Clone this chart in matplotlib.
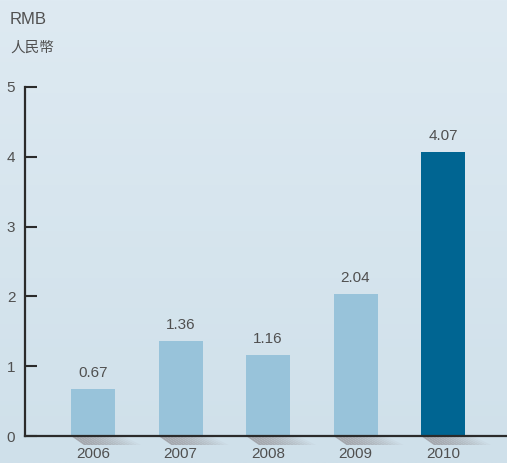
import numpy as np
from matplotlib import pyplot as plt
from matplotlib.collections import PolyCollection
from matplotlib.colors import to_rgb

plt.rcParams['font.family'] = ['Liberation Sans', 'Noto Sans CJK TC', 'DejaVu Sans']

years  = ['2006', '2007', '2008', '2009', '2010']
values = [0.67, 1.36, 1.16, 2.04, 4.07]
yticks = [0, 1, 2, 3, 4, 5]

light  = '#98c3da'
dark   = '#006592'
txt    = '#505050'
W, H   = 507, 463

fig = plt.figure(figsize=(W / 100, H / 100), dpi=100)

# soft blue background wash
bg = fig.add_axes([0, 0, 1, 1])
grad = np.linspace(0, 1, 256)[:, None]
top, bot = np.array(to_rgb('#deeaf2')), np.array(to_rgb('#cfe0ea'))
img = top[None, None, :] * (1 - grad[..., None]) + bot[None, None, :] * grad[..., None]
bg.imshow(img, aspect='auto', extent=[0, 1, 0, 1])
bg.axis('off')

x0, y0, y1 = 25, 463 - 436, 463 - 87
ax = fig.add_axes([x0 / W, y0 / H, 1 - x0 / W, (y1 - y0) / H])
ax.patch.set_visible(False)

step  = 87.5
width = 44 / step
xmin  = -(93 - x0) / step
ax.set_xlim(xmin, xmin + (W - x0) / step)
ax.set_ylim(0, 5)

xs = np.arange(len(years))
colors = [light] * 4 + [dark]

# shadows under bars, fading to the right
shade = np.array(to_rgb('#a4a7ad'))
bgc = bot
n = 16
dy = 9 / ((y1 - y0) / 5)
for x in xs:
    l, r = x - width / 2, x + width / 2
    tl0, tr1 = l, r + 8 / step
    bl0, br1 = l + 13 / step, r + 26 / step
    polys, cols = [], []
    for k in range(n):
        f0, f1 = k / n, (k + 1) / n
        polys.append([(tl0 + (tr1 - tl0) * f0, 0), (tl0 + (tr1 - tl0) * f1, 0),
                      (bl0 + (br1 - bl0) * f1, -dy), (bl0 + (br1 - bl0) * f0, -dy)])
        t = f0 ** 1.6
        cols.append(shade * (1 - t) + bgc * t)
    pc = PolyCollection(polys, facecolors=cols, edgecolors='none', clip_on=False, zorder=1)
    ax.add_collection(pc)

ax.bar(xs, values, width=width, color=colors, zorder=2)
for x, v in zip(xs, values):
    ax.text(x, v + 0.13, f"{v:.2f}", ha='center', va='bottom', fontsize=11, color=txt)

for s in ['top', 'right']:
    ax.spines[s].set_visible(False)
for s in ['left', 'bottom']:
    ax.spines[s].set_color('#2b2b2b')
    ax.spines[s].set_linewidth(1.6)
ax.spines['bottom'].set_zorder(3)

ax.set_yticks(yticks)
ax.set_yticklabels([str(t) for t in yticks])
ax.tick_params(axis='y', direction='in', length=8.5, width=1.5, color='#2b2b2b',
               labelsize=11, labelcolor=txt, pad=7)
ax.set_xticks(xs)
ax.set_xticklabels(years)
ax.tick_params(axis='x', length=0, labelsize=11, labelcolor=txt, pad=8)

fig.text(10 / W, 1 - 20 / H, 'RMB', fontsize=12, color=txt, va='center', ha='left')
fig.text(10 / W, 1 - 48 / H, '人民幣', fontsize=10.5, color=txt, va='center', ha='left',
         family=['Noto Sans CJK TC', 'DejaVu Sans'])

fig.savefig('out.png', dpi=100)
